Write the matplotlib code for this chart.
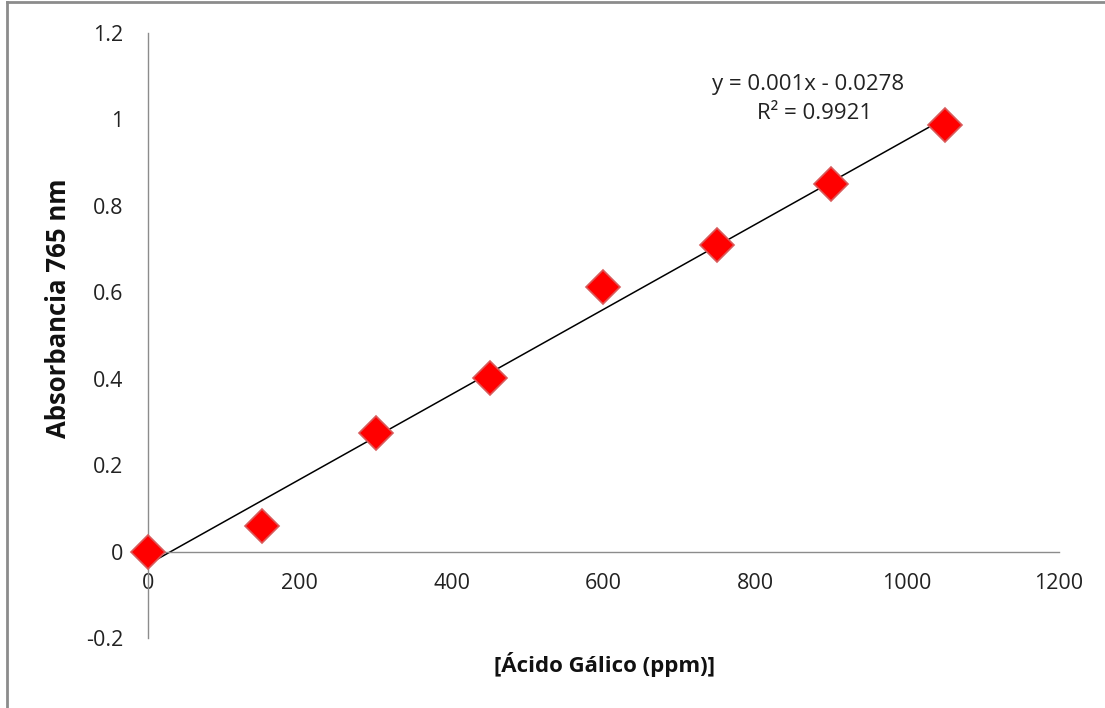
import matplotlib
matplotlib.use('Agg')

import numpy as np
import matplotlib.pyplot as plt
from matplotlib.lines import Line2D

plt.rcParams['font.family'] = ['Open Sans', 'DejaVu Sans']

# Gallic acid calibration data
concentration = [0, 150, 300, 450, 600, 750, 900, 1050]
absorbance = [0.0, 0.06, 0.275, 0.402, 0.613, 0.71, 0.851, 0.987]
x_ticks = [0, 200, 400, 600, 800, 1000, 1200]
y_ticks = [-0.2, 0, 0.2, 0.4, 0.6, 0.8, 1, 1.2]
y_tick_labels = ['-0.2', '0', '0.2', '0.4', '0.6', '0.8', '1', '1.2']
equation = 'y = 0.001x - 0.0278'
r_squared = 'R² = 0.9921'

fig = plt.figure(figsize=(11.05, 7.08), dpi=100)
ax = fig.add_axes([0.1339, 0.0982, 0.8245, 0.8552])

# linear trendline
slope, intercept = np.polyfit(concentration, absorbance, 1)
xs = np.array([concentration[0], concentration[-1]])
ax.plot(xs, slope * xs + intercept, color='black', lw=1.1, zorder=2)

ax.plot(concentration, absorbance, linestyle='none', marker='D', markersize=17,
        markerfacecolor='#ff0000', markeredgecolor='#d95a5a', markeredgewidth=1.2,
        zorder=3, clip_on=False)

ax.set_xlim(0, 1200)
ax.set_ylim(-0.2, 1.2)
ax.spines['left'].set_position(('data', 0))
ax.spines['bottom'].set_position(('data', 0))
ax.spines['top'].set_visible(False)
ax.spines['right'].set_visible(False)
for s in ('left', 'bottom'):
    ax.spines[s].set_color('#8c8c8c')
    ax.spines[s].set_linewidth(1.0)

ax.set_xticks(x_ticks)
ax.set_yticks(y_ticks)
ax.set_yticklabels(y_tick_labels)
ax.tick_params(axis='both', length=0, labelsize=15.5, colors='#222222')
ax.tick_params(axis='x', pad=15)
ax.tick_params(axis='y', pad=18)

fig.text(0.547, 0.061, '[Ácido Gálico (ppm)]', ha='center', va='center',
         fontsize=16, fontweight='bold', color='#111111')
fig.text(0.053, 0.565, 'Absorbancia 765 nm', ha='center', va='center',
         rotation=90, fontsize=18.5, fontweight='bold', color='#111111')

fig.text(0.731, 0.880, equation, ha='center', va='center', fontsize=16, color='#222222')
fig.text(0.737, 0.840, r_squared, ha='center', va='center', fontsize=16, color='#222222')

# outer chart border (only left and top edges are in frame)
fig.add_artist(Line2D([0.0063, 0.0063], [0, 0.9965], transform=fig.transFigure,
                      color='#8c8c8c', lw=2))
fig.add_artist(Line2D([0.0063, 1], [0.9965, 0.9965], transform=fig.transFigure,
                      color='#8c8c8c', lw=2))

fig.savefig('out.png', dpi=100, facecolor='white')
